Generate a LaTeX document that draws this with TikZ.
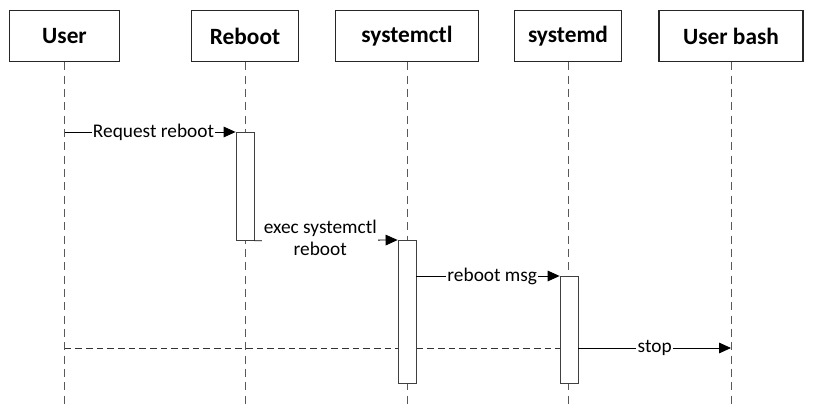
\documentclass[tikz,border=0pt]{standalone}
\usepackage{fontspec}
\setmainfont{Carlito}
\usetikzlibrary{arrows.meta}
\begin{document}
\begin{tikzpicture}[x=0.75pt,y=-0.75pt,
  actor/.style={draw=black!85,line width=0.8pt,fill=white,minimum height=38.5pt,inner sep=0pt,font=\bfseries\fontsize{17.5}{20}\selectfont},
  life/.style={draw=black!65,line width=0.6pt,dash pattern=on 6pt off 4pt},
  act/.style={draw=black!75,line width=0.6pt,fill=white},
  msg/.style={draw=black,line width=0.6pt,-{Triangle[length=9pt,width=8pt]}},
  lbl/.style={fill=white,inner sep=1pt,font=\fontsize{14.5}{16}\selectfont,align=center}]
\useasboundingbox (0,0) rectangle (813,417);
% actors
\node[actor,minimum width=82pt] (user) at (64.5,36) {User};
\node[actor,minimum width=80pt] (reboot) at (245,36) {Reboot};
\node[actor,minimum width=107pt] (sctl) at (407,36) {systemctl};
\node[actor,minimum width=80pt] (sd) at (568,36) {systemd};
\node[actor,minimum width=108pt] (ub) at (731,36) {User bash};
% lifeline ends
\coordinate (userE) at (64.5,405);
\coordinate (rebootE) at (245,405);
\coordinate (sctlE) at (407,405);
\coordinate (sdE) at (568,405);
\coordinate (ubE) at (731,405);
\draw[life] (user.south) -- (userE);
\draw[life] (reboot.south) -- (rebootE);
\draw[life] (sctl.south) -- (sctlE);
\draw[life] (sd.south) -- (sdE);
\draw[life] (ub.south) -- (ubE);
% dashed line
\coordinate (dl) at (64.5,348);
\coordinate (dr) at (568,348);
\draw[draw=black!80,line width=0.6pt,dash pattern=on 5pt off 3pt] (dl) -- (dr);
% activations
\node[act,minimum width=13.5pt,minimum height=81pt,inner sep=0pt,anchor=north] (a1) at (245,132) {};
\node[act,minimum width=13.5pt,minimum height=107pt,inner sep=0pt,anchor=north] (a2) at (407,240) {};
\node[act,minimum width=13.5pt,minimum height=80pt,inner sep=0pt,anchor=north] (a3) at (569,276) {};
% messages
\coordinate (m1s) at (64.5,132);
\draw[msg] (m1s) -- (a1.north west) node[lbl,pos=0.52] {Request reboot};
\draw[msg] (a1.south east) -- (a2.north west) node[lbl,pos=0.46,yshift=2pt] {exec systemctl\\reboot};
\draw[msg] (a2.east |- a3.north) -- (a3.north west) node[lbl,pos=0.53] {reboot msg};
\coordinate (stopE) at (731,348);
\draw[msg] (a3.east |- dr) -- (stopE) node[lbl,pos=0.5] {stop};
\end{tikzpicture}
\end{document}
